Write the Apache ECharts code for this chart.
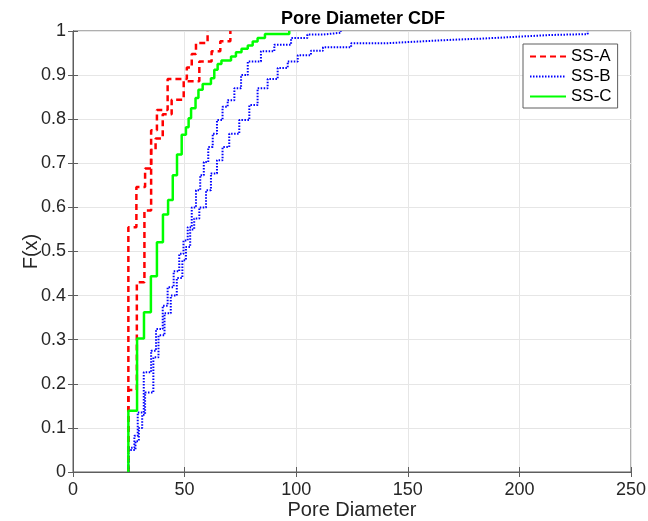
<!DOCTYPE html>
<html>
<head>
<meta charset="utf-8">
<script src="https://cdn.jsdelivr.net/npm/echarts@6/dist/echarts.min.js"></script>
<style>
  html, body { margin: 0; padding: 0; background: #fff; }
  #chart { width: 648px; height: 521px; }
</style>
</head>
<body>
<div id="chart"></div>
<script>
var xTicks = [0, 50, 100, 150, 200, 250];
var yTicks = [0, 0.1, 0.2, 0.3, 0.4, 0.5, 0.6, 0.7, 0.8, 0.9, 1];

// SS-A, two samples (red dashed)
var ssA1X = [24.8, 24.8, 28.4, 32.3, 35.0, 37.6, 42.4, 51.0, 53.2, 55.1, 60.3];
var ssA1F = [0, 0.555, 0.646, 0.688, 0.775, 0.821, 0.891, 0.917, 0.948, 0.973, 1.0];
var ssA2X = [24.8, 24.8, 28.6, 32.0, 35.0, 37.0, 40.2, 44.2, 49.6, 56.6, 62.1, 66.0, 70.5];
var ssA2F = [0, 0.186, 0.43, 0.593, 0.73, 0.756, 0.811, 0.844, 0.886, 0.931, 0.954, 0.977, 1.0];

// SS-B, two samples (blue dotted)
var ssB1X = [24.8, 24.8, 27.5, 29.0, 31.7, 35.0, 37.2, 40.2, 42.4, 45.1, 47.6, 49.5, 51.4, 53.2, 55.1, 57.0, 58.6, 60.6, 62.6, 64.5, 67.0, 69.3, 72.3, 75.3, 78.3, 84.2, 90.2, 97.7, 105, 112, 120];
var ssB1F = [0, 0.055, 0.082, 0.135, 0.226, 0.275, 0.324, 0.377, 0.419, 0.455, 0.495, 0.525, 0.555, 0.6, 0.639, 0.673, 0.703, 0.737, 0.767, 0.798, 0.828, 0.843, 0.87, 0.9, 0.931, 0.954, 0.969, 0.984, 0.992, 0.996, 1.0];
var ssB2X = [24.8, 24.8, 28.0, 29.5, 31.0, 32.3, 36.0, 38.3, 41.0, 43.8, 46.5, 49.0, 50.6, 52.5, 54.3, 56.6, 59.6, 61.8, 64.5, 67.0, 70.0, 74.5, 79.0, 82.7, 87.2, 91.7, 96.2, 100.7, 106.6, 112, 124.6, 139.5, 154.4, 169.4, 184.3, 199.2, 214.2, 230.6];
var ssB2F = [0, 0.05, 0.07, 0.10, 0.13, 0.18, 0.26, 0.31, 0.36, 0.40, 0.44, 0.48, 0.51, 0.55, 0.575, 0.6, 0.639, 0.677, 0.707, 0.737, 0.767, 0.798, 0.832, 0.87, 0.891, 0.916, 0.931, 0.945, 0.955, 0.963, 0.972, 0.976, 0.98, 0.983, 0.987, 0.991, 0.993, 1.0];

// SS-C (green solid)
var ssCX = [24.8, 24.8, 28.7, 31.8, 34.9, 37.6, 40.3, 42.6, 44.7, 46.6, 48.7, 50.6, 51.8, 52.9, 54.9, 56.2, 58.1, 61.8, 63.3, 64.8, 66.5, 70.8, 73.0, 75.5, 78.3, 80.5, 82.7, 86.0, 96.9];
var ssCF = [0, 0.139, 0.303, 0.362, 0.444, 0.521, 0.584, 0.617, 0.673, 0.72, 0.765, 0.782, 0.802, 0.825, 0.848, 0.867, 0.88, 0.893, 0.912, 0.925, 0.933, 0.942, 0.952, 0.96, 0.967, 0.976, 0.984, 0.993, 1.0];

var font = 'Liberation Sans';
var ink = '#262626';
var axisGray = '#5e5e5e';

function stairs(name, xs, fs, color, type, width) {
    return {
        name: name,
        type: 'line',
        step: 'end',
        showSymbol: false,
        symbol: 'none',
        silent: true,
        animation: false,
        lineStyle: { color: color, type: type, width: width, cap: 'butt' },
        // opacity 0 only hides the legend marker, the series draws no symbols
        itemStyle: { color: color, opacity: 0 },
        data: xs.map(function (x, i) { return [x, fs[i]]; })
    };
}

var chart = echarts.init(document.getElementById('chart'), null, { renderer: 'canvas' });

var option = {
    animation: false,
    title: {
        text: 'Pore Diameter CDF',
        left: 358,
        textAlign: 'center',
        top: 5,
        textStyle: { fontFamily: font, fontSize: 18, fontWeight: 'bold', color: '#000' }
    },
    legend: {
        data: ['SS-A', 'SS-B', 'SS-C'],
        orient: 'vertical',
        left: 523,
        top: 44,
        padding: [4, 6, 3, 6],
        itemGap: 3,
        itemWidth: 36,
        itemHeight: 16,
        backgroundColor: '#fff',
        borderColor: axisGray,
        borderWidth: 1,
        borderRadius: 0,
        textStyle: { fontFamily: font, fontSize: 17, color: '#000' }
    },
    grid: {
        left: 73, right: 17, top: 31, bottom: 49,
        outerBoundsMode: 'none',
        show: true, borderColor: axisGray, borderWidth: 1, backgroundColor: '#fff'
    },
    xAxis: [{
        type: 'value',
        min: xTicks[0], max: xTicks[xTicks.length - 1],
        interval: xTicks[1] - xTicks[0],
        name: 'Pore Diameter',
        nameLocation: 'middle',
        nameGap: 28,
        nameMoveOverlap: false,
        nameTextStyle: { fontFamily: font, fontSize: 20, color: ink },
        axisLine: { show: true, lineStyle: { color: axisGray } },
        axisTick: { show: true, inside: true, length: 5, lineStyle: { color: axisGray } },
        axisLabel: { fontFamily: font, fontSize: 18, color: ink, margin: 9 },
        splitLine: { show: true, lineStyle: { color: '#e6e6e6' } }
    }, {
        type: 'value', position: 'top',
        min: xTicks[0], max: xTicks[xTicks.length - 1],
        interval: xTicks[1] - xTicks[0],
        axisLine: { show: true, lineStyle: { color: axisGray } },
        axisTick: { show: true, inside: true, length: 5, lineStyle: { color: axisGray } },
        axisLabel: { show: false },
        splitLine: { show: false }
    }],
    yAxis: [{
        type: 'value',
        min: yTicks[0], max: yTicks[yTicks.length - 1],
        interval: 0.1,
        name: 'F(x)',
        nameLocation: 'middle',
        nameGap: 32,
        nameMoveOverlap: false,
        nameRotate: 90,
        nameTextStyle: { fontFamily: font, fontSize: 20, color: ink },
        axisLine: { show: true, lineStyle: { color: axisGray } },
        axisTick: { show: true, inside: true, length: 5, lineStyle: { color: axisGray } },
        axisLabel: {
            fontFamily: font, fontSize: 18, color: ink, margin: 7,
            formatter: function (v) {
                var t = yTicks.filter(function (y) { return Math.abs(y - v) < 1e-6; })[0];
                return t === 0 || t === 1 ? String(t) : t.toFixed(1);
            }
        },
        splitLine: { show: true, lineStyle: { color: '#e6e6e6' } }
    }, {
        type: 'value', position: 'right',
        min: yTicks[0], max: yTicks[yTicks.length - 1],
        interval: 0.1,
        axisLine: { show: true, lineStyle: { color: axisGray } },
        axisTick: { show: true, inside: true, length: 5, lineStyle: { color: axisGray } },
        axisLabel: { show: false },
        splitLine: { show: false }
    }],
    series: [
        stairs('SS-A', ssA1X, ssA1F, '#ff0000', [6, 4], 2.5),
        stairs('SS-A', ssA2X, ssA2F, '#ff0000', [6, 4], 2.5),
        stairs('SS-B', ssB1X, ssB1F, '#0000ff', [1.5, 1.5], 2),
        stairs('SS-B', ssB2X, ssB2F, '#0000ff', [1.5, 1.5], 2),
        stairs('SS-C', ssCX, ssCF, '#00ff00', 'solid', 2.5)
    ]
};

chart.setOption(option);
</script>
</body>
</html>
